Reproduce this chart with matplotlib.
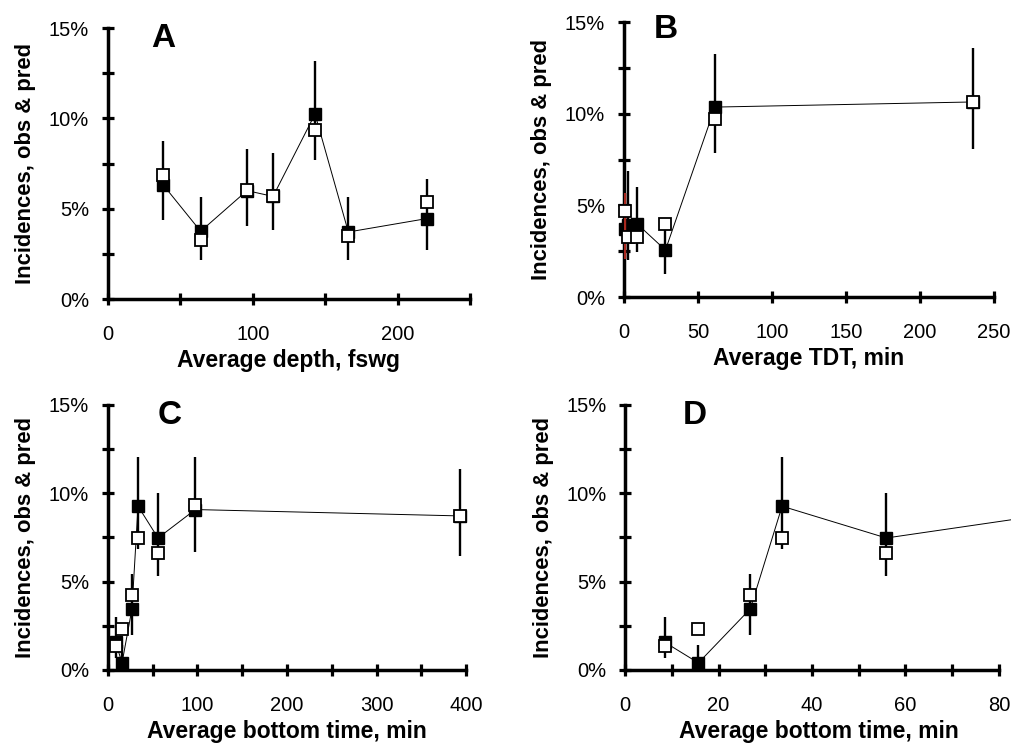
import matplotlib.pyplot as plt

plt.rcParams['font.family'] = ['Liberation Sans', 'DejaVu Sans']

# Panel A: average depth (fswg)
depth_x = [38, 64, 96, 114, 143, 166, 220]
depth_filled = [6.33, 3.75, 6.0, 5.68, 10.24, 3.71, 4.45]
depth_open = [6.88, 3.25, 6.01, 5.68, 9.37, 3.51, 5.37]
depth_lo = [4.39, 2.18, 4.06, 3.84, 7.71, 2.18, 2.73]
depth_hi = [8.73, 5.65, 8.30, 8.08, 13.15, 5.65, 6.64]

# Panel B: average TDT (min)
tdt_x = [0.6, 2.5, 9, 28, 61.5, 236]
tdt_filled = [3.69, 3.93, 3.98, 2.56, 10.36, 10.64]
tdt_open = [4.69, 3.29, 3.29, 3.96, 9.73, 10.64]
tdt_lo = [2.1, 2.0, 2.47, 1.25, 7.85, 8.09]
tdt_hi = [5.65, 6.9, 5.98, 3.7, 13.27, 13.6]

# Panels C and D: average bottom time (min)
bt_x = [8.5, 15.7, 26.8, 33.6, 55.9, 97.6, 393]
bt_filled = [1.57, 0.40, 3.46, 9.27, 7.47, 9.08, 8.72]
bt_open = [1.34, 2.33, 4.26, 7.47, 6.64, 9.36, 8.72]
bt_lo = [0.66, 0.1, 2.0, 6.87, 5.31, 6.68, 6.45]
bt_hi = [2.99, 1.40, 5.45, 12.03, 9.99, 12.03, 11.37]

y_ticks = [0, 2.5, 5, 7.5, 10, 12.5, 15]
y_labels = ['0%', '', '5%', '', '10%', '', '15%']


def draw_panel(ax, x, filled, opn, lo, hi, letter, xlabel,
               xticks, xlabels, xmax, letter_pos):
    ax.vlines(x, lo, hi, color='black', lw=1.7, zorder=2)
    ax.plot(x, filled, color='black', lw=0.7, zorder=3)
    ax.plot(x, filled, 's', ms=8, mfc='black', mec='black',
            mew=1.0, zorder=4, clip_on=False)
    ax.plot(x, opn, 's', ms=8, mfc='white', mec='black',
            mew=1.3, zorder=5, clip_on=False)

    ax.set_xlim(0, xmax)
    ax.set_ylim(0, 15)
    for side in ['top', 'right']:
        ax.spines[side].set_visible(False)
    for side in ['left', 'bottom']:
        ax.spines[side].set_linewidth(2.5)
    ax.spines['left'].set_bounds(0, 15)
    ax.spines['bottom'].set_bounds(xticks[0], xticks[-1])

    ax.set_xticks(xticks)
    ax.set_xticklabels(xlabels)
    ax.set_yticks(y_ticks)
    ax.set_yticklabels(y_labels)
    ax.tick_params(axis='both', direction='inout', length=9, width=2.3,
                   labelsize=14.5)
    ax.tick_params(axis='x', pad=14)
    ax.tick_params(axis='y', pad=9)

    ax.set_xlabel(xlabel, fontsize=16.5, fontweight='bold', labelpad=4)
    ax.set_ylabel('Incidences, obs & pred', fontsize=15.8,
                  fontweight='bold', labelpad=9)
    ax.text(letter_pos[0], letter_pos[1], letter, transform=ax.transAxes,
            fontsize=24, fontweight='bold', va='center', ha='left')


fig = plt.figure(figsize=(10.12, 7.44), dpi=100)

ax_a = fig.add_axes([0.1067, 0.5981, 0.3577, 0.3642])
draw_panel(ax_a, depth_x, depth_filled, depth_open, depth_lo, depth_hi,
           'A', 'Average depth, fswg',
           [0, 50, 100, 150, 200, 250], ['0', '', '100', '', '200', ''],
           250, (0.12, 0.963))

ax_b = fig.add_axes([0.6166, 0.6008, 0.3656, 0.3696])
draw_panel(ax_b, tdt_x, tdt_filled, tdt_open, tdt_lo, tdt_hi,
           'B', 'Average TDT, min',
           [0, 50, 100, 150, 200, 250], ['0', '50', '100', '150', '200', '250'],
           250, (0.081, 0.971))
# the first bar near zero is drawn in dark red
ax_b.vlines(tdt_x[0], tdt_lo[0], tdt_hi[0], color='#a8281e', lw=1.7, zorder=4.5)

ax_c = fig.add_axes([0.1067, 0.0995, 0.3538, 0.3562])
draw_panel(ax_c, bt_x, bt_filled, bt_open, bt_lo, bt_hi,
           'C', 'Average bottom time, min',
           [0, 50, 100, 150, 200, 250, 300, 350, 400],
           ['0', '', '100', '', '200', '', '300', '', '400'],
           400, (0.14, 0.962))

ax_d = fig.add_axes([0.6176, 0.0995, 0.3834, 0.3562])
draw_panel(ax_d, bt_x, bt_filled, bt_open, bt_lo, bt_hi,
           'D', 'Average bottom time, min',
           [0, 10, 20, 30, 40, 50, 60, 70, 80],
           ['0', '', '20', '', '40', '', '60', '', '80'],
           83, (0.15, 0.962))
# keep the zoomed panel's markers inside the visible range
for line in ax_d.lines[1:]:
    line.set_clip_on(True)

fig.savefig('out.png', dpi=100, facecolor='white')
